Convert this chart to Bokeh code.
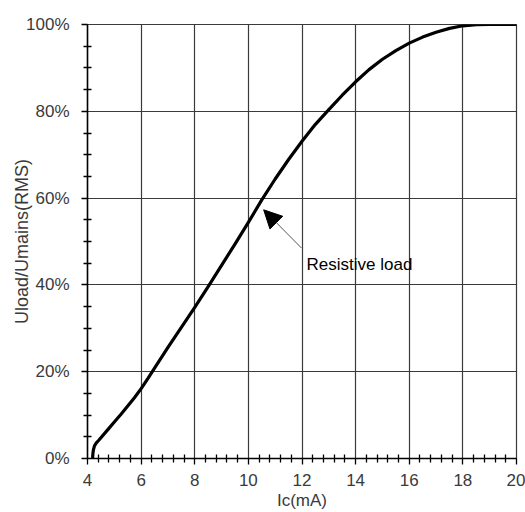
from bokeh.plotting import figure
from bokeh.models import Range1d, FixedTicker, Arrow, NormalHead, Label
from bokeh.embed import file_html
from bokeh.resources import INLINE

# ---- data ----
ic_ma = [4.19, 4.20, 4.22, 4.26, 4.33, 4.42, 4.50, 4.75, 5.00, 5.25, 5.50, 5.75,
         6.00, 6.25, 6.50, 7.00, 7.50, 8.00, 8.50, 9.00, 9.50, 10.00, 10.50,
         11.00, 11.50, 12.00, 12.50, 13.00, 13.50, 14.00, 14.50, 15.00, 15.50,
         16.00, 16.50, 17.00, 17.50, 18.00, 18.50, 19.00, 20.00]
uload_pct = [0.0, 1.0, 2.0, 2.9, 3.6, 4.2, 4.8, 6.6, 8.4, 10.2, 12.1, 14.0,
             16.1, 18.4, 20.8, 25.6, 30.2, 34.8, 39.6, 44.5, 49.4, 54.4, 59.6,
             64.4, 68.9, 73.1, 77.0, 80.4, 83.7, 86.8, 89.6, 92.0, 94.0,
             95.7, 97.1, 98.2, 99.1, 99.7, 99.95, 100.0, 100.0]

x_major_ticks = [4, 6, 8, 10, 12, 14, 16, 18, 20]
y_major_ticks = [0, 20, 40, 60, 80, 100]
y_tick_labels = ["0%", "20%", "40%", "60%", "80%", "100%"]

annotation_text = "Resistive load"
arrow_tip = (10.57, 57.3)
arrow_tail = (11.98, 48.5)
annotation_pos = (12.17, 44.6)

FONT = "Liberation Sans"
LABEL_COLOR = "#3a3a3a"
GRID_COLOR = "#3a3a3a"

p = figure(width=525, height=512, output_backend="svg", toolbar_location=None,
           x_range=Range1d(4, 20), y_range=Range1d(0, 100),
           min_border_left=87, min_border_right=9, min_border_top=24,
           min_border_bottom=10)
p.background_fill_color = "white"
p.border_fill_color = "white"
p.outline_line_color = GRID_COLOR
p.outline_line_width = 1.2

x_minor = [round(4 + 0.4 * i, 2) for i in range(41) if i % 5 != 0]
y_minor = [v for v in range(0, 101, 5) if v % 20 != 0]

p.xaxis.ticker = FixedTicker(ticks=x_major_ticks, minor_ticks=x_minor)
p.yaxis.ticker = FixedTicker(ticks=y_major_ticks, minor_ticks=y_minor)
p.yaxis.major_label_overrides = {v: s for v, s in zip(y_major_ticks, y_tick_labels)}
p.xaxis.major_label_overrides = {v: str(v) for v in x_major_ticks}

for ax in (p.xaxis, p.yaxis):
    ax.axis_line_color = "black"
    ax.axis_line_width = 1.5
    ax.major_tick_line_color = "black"
    ax.major_tick_line_width = 1.3
    ax.minor_tick_line_color = "black"
    ax.minor_tick_line_width = 1.3
    ax.major_tick_in = 0
    ax.major_tick_out = 6
    ax.minor_tick_in = 4
    ax.minor_tick_out = 4
    ax.major_label_text_font = FONT
    ax.major_label_text_font_size = "17px"
    ax.major_label_text_color = LABEL_COLOR
    ax.axis_label_text_font = FONT
    ax.axis_label_text_font_style = "normal"
    ax.axis_label_text_color = LABEL_COLOR

p.xaxis.major_label_standoff = 9
p.yaxis.major_label_standoff = 12
p.xaxis.axis_label = "Ic(mA)"
p.xaxis.axis_label_text_font_size = "17px"
p.xaxis.axis_label_standoff = 2
p.yaxis.axis_label = "Uload/Umains(RMS)"
p.yaxis.axis_label_text_font_size = "18px"
p.yaxis.axis_label_standoff = -9

p.grid.grid_line_color = GRID_COLOR
p.grid.grid_line_width = 1.2
p.xgrid.ticker = FixedTicker(ticks=x_major_ticks)
p.ygrid.ticker = FixedTicker(ticks=y_major_ticks)

p.line(ic_ma, uload_pct, line_color="black", line_width=3.2, line_join="round")

arrow = Arrow(end=NormalHead(size=18, fill_color="black", line_color="black"),
              x_start=arrow_tail[0], y_start=arrow_tail[1],
              x_end=arrow_tip[0], y_end=arrow_tip[1],
              line_color="#555555", line_width=1)
p.add_layout(arrow)

p.add_layout(Label(x=annotation_pos[0], y=annotation_pos[1], text=annotation_text,
                   text_font=FONT, text_font_size="17px", text_color="black",
                   text_baseline="alphabetic", text_align="left"))

open("out.html", "w").write(file_html(p, INLINE))
